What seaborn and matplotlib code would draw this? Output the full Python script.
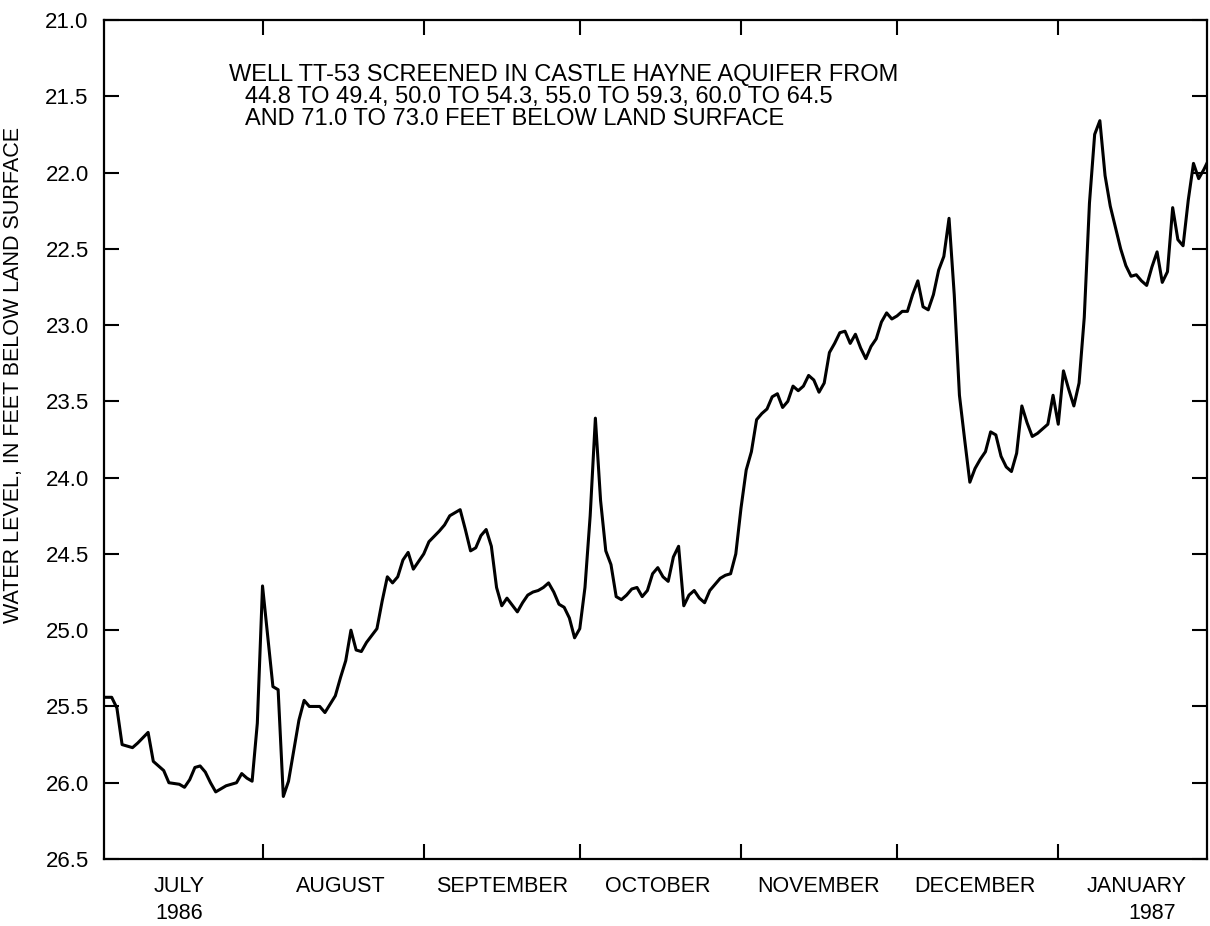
import matplotlib
matplotlib.use("Agg")
import matplotlib.pyplot as plt
import matplotlib.dates as mdates
from matplotlib.ticker import (FixedLocator, FixedFormatter,
                               FormatStrFormatter, NullFormatter)
import pandas as pd
import seaborn as sns

# Daily water levels, feet below land surface, well TT-53
jul_days = [1, 3, 4, 5, 7, 8, 10, 11, 13, 14, 16, 17, 18, 19, 20, 21, 22, 23,
            24, 25, 27, 28, 29, 30, 31]
jul_levels = [25.44, 25.44, 25.51, 25.75, 25.77, 25.74, 25.67, 25.86, 25.92,
              26.00, 26.01, 26.03, 25.98, 25.90, 25.89, 25.93, 26.00, 26.06,
              26.04, 26.02, 26.00, 25.94, 25.97, 25.99, 25.61]

aug_days = [1, 3, 4, 5, 6, 8, 9, 10, 12, 13, 15, 16, 17, 18, 19, 20, 21, 23,
            24, 25, 26, 27, 28, 29, 30]
aug_levels = [24.71, 25.37, 25.39, 26.09, 25.99, 25.59, 25.46, 25.50, 25.50,
              25.54, 25.43, 25.31, 25.20, 25.00, 25.13, 25.14, 25.08, 24.99,
              24.81, 24.65, 24.69, 24.65, 24.54, 24.49, 24.60]

sep_days = [1, 2, 4, 5, 6, 8, 9, 10, 11, 12, 13, 14, 15, 16, 17, 19, 20, 21,
            22, 23, 24, 25, 26, 27, 28, 29, 30]
sep_levels = [24.50, 24.42, 24.35, 24.31, 24.25, 24.21, 24.34, 24.48, 24.46,
              24.38, 24.34, 24.45, 24.72, 24.84, 24.79, 24.88, 24.82, 24.77,
              24.75, 24.74, 24.72, 24.69, 24.75, 24.83, 24.85, 24.92, 25.05]

oct_days = list(range(1, 32))
oct_levels = [24.99, 24.72, 24.25, 23.61, 24.15, 24.48, 24.57, 24.78, 24.80,
              24.77, 24.73, 24.72, 24.78, 24.74, 24.63, 24.59, 24.65, 24.68,
              24.52, 24.45, 24.84, 24.77, 24.74, 24.79, 24.82, 24.74, 24.70,
              24.66, 24.64, 24.63, 24.50]

nov_days = list(range(1, 31))
nov_levels = [24.20, 23.95, 23.83, 23.62, 23.58, 23.55, 23.47, 23.45, 23.54,
              23.50, 23.40, 23.43, 23.40, 23.33, 23.36, 23.44, 23.38, 23.18,
              23.12, 23.05, 23.04, 23.12, 23.06, 23.15, 23.22, 23.14, 23.09,
              22.98, 22.92, 22.96]

dec_days = list(range(1, 32))
dec_levels = [22.94, 22.91, 22.91, 22.80, 22.71, 22.88, 22.90, 22.80, 22.64,
              22.55, 22.30, 22.80, 23.46, 23.75, 24.03, 23.94, 23.88, 23.83,
              23.70, 23.72, 23.86, 23.93, 23.96, 23.84, 23.53, 23.64, 23.73,
              23.71, 23.68, 23.65, 23.46]

jan_days = list(range(1, 31))
jan_levels = [23.65, 23.30, 23.42, 23.53, 23.38, 22.95, 22.20, 21.75, 21.66,
              22.02, 22.22, 22.36, 22.50, 22.61, 22.68, 22.67, 22.71, 22.74,
              22.62, 22.52, 22.72, 22.65, 22.23, 22.44, 22.48, 22.18, 21.94,
              22.04, 21.98, 21.91]

month_names = ["JULY", "AUGUST", "SEPTEMBER", "OCTOBER", "NOVEMBER",
               "DECEMBER", "JANUARY"]
y_ticks = [21.0, 21.5, 22.0, 22.5, 23.0, 23.5, 24.0, 24.5, 25.0, 25.5, 26.0,
           26.5]

note_lines = [
    "WELL TT-53 SCREENED IN CASTLE HAYNE AQUIFER FROM",
    "44.8 TO 49.4, 50.0 TO 54.3, 55.0 TO 59.3, 60.0 TO 64.5",
    "AND 71.0 TO 73.0 FEET BELOW LAND SURFACE",
]

months = [("1986-07", jul_days, jul_levels), ("1986-08", aug_days, aug_levels),
          ("1986-09", sep_days, sep_levels), ("1986-10", oct_days, oct_levels),
          ("1986-11", nov_days, nov_levels), ("1986-12", dec_days, dec_levels),
          ("1987-01", jan_days, jan_levels)]
dates, levels = [], []
for ym, days, vals in months:
    dates += [pd.Timestamp(f"{ym}-{d:02d}") for d in days]
    levels += vals
df = pd.DataFrame({"date": dates, "level": levels})

sns.set_style("ticks")
plt.rcParams["font.family"] = ["Liberation Sans", "DejaVu Sans"]
plt.rcParams["axes.edgecolor"] = "black"
plt.rcParams["xtick.color"] = "black"
plt.rcParams["ytick.color"] = "black"
plt.rcParams["text.color"] = "black"
plt.rcParams["axes.labelcolor"] = "black"

W, H = 1210, 926
fig = plt.figure(figsize=(W / 100, H / 100), dpi=100)
fig.patch.set_facecolor("white")
left, right, top, bottom = 104, 1207, 20, 859
ax = fig.add_axes([left / W, 1 - bottom / H, (right - left) / W, (bottom - top) / H])

sns.lineplot(data=df, x="date", y="level", ax=ax, color="black",
             linewidth=2.2, estimator=None, sort=False)

ax.set_ylim(26.5, 21.0)
ax.yaxis.set_major_locator(FixedLocator(y_ticks))
ax.yaxis.set_major_formatter(FormatStrFormatter("%.1f"))

ax.set_xlim(mdates.date2num(pd.Timestamp("1986-07-01 12:30")),
            mdates.date2num(pd.Timestamp("1987-01-29 14:24")))
ax.xaxis.set_major_locator(mdates.MonthLocator())
ax.xaxis.set_major_formatter(NullFormatter())
label_pos = [mdates.date2num(pd.Timestamp(s)) for s in
             ["1986-07-16", "1986-08-16", "1986-09-16", "1986-10-16",
              "1986-11-16", "1986-12-16", "1987-01-16"]]
ax.xaxis.set_minor_locator(FixedLocator(label_pos))
ax.xaxis.set_minor_formatter(FixedFormatter(month_names))

ax.tick_params(axis="x", which="major", direction="in", length=11, width=1.5,
               top=True, bottom=True)
ax.tick_params(axis="x", which="minor", length=0, pad=12, labelsize=15.5)
ax.tick_params(axis="y", which="major", direction="in", length=11, width=1.5,
               left=True, right=True, pad=11, labelsize=16)
for s in ax.spines.values():
    s.set_visible(True)
    s.set_linewidth(1.6)
    s.set_color("black")

ax.set_xlabel("")
ax.set_ylabel("WATER LEVEL, IN FEET BELOW LAND SURFACE", fontsize=15.5)
ax.yaxis.set_label_coords(-0.0725, 0.577)

for year, when in [("1986", "1986-07-16"), ("1987", "1987-01-19")]:
    ax.annotate(year, xy=(mdates.date2num(pd.Timestamp(when)), 0),
                xycoords=("data", "axes fraction"), xytext=(0, -32),
                textcoords="offset points", ha="center", va="top",
                fontsize=15.5)

note_x = [0.1133, 0.1278, 0.1278]
note_y = [0.9344, 0.9084, 0.8824]
for txt, nx, ny in zip(note_lines, note_x, note_y):
    ax.text(nx, ny, txt, transform=ax.transAxes, ha="left", va="center",
            fontsize=17)

fig.savefig("out.png", dpi=100, facecolor="white")
